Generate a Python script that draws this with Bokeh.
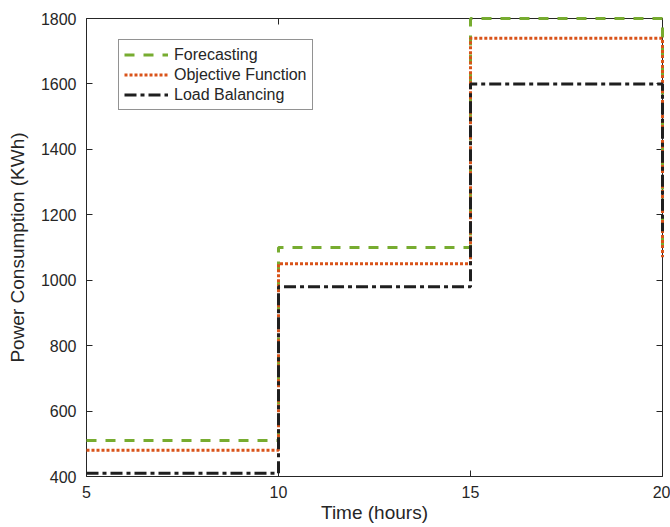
from bokeh.plotting import figure
from bokeh.models import LinearAxis, Range1d, FixedTicker, Legend, LegendItem, CustomJSTickFormatter
from bokeh.embed import file_html
from bokeh.resources import INLINE

time_hours = [5, 10, 15, 20]
forecasting = [510, 1100, 1800, 1100]
objective_function = [480, 1050, 1740, 1070]
load_balancing = [410, 980, 1600, 1150]

x_ticks = [5, 10, 15, 20]
y_ticks = [400, 600, 800, 1000, 1200, 1400, 1600, 1800]

FONT = "Liberation Sans"
AX = "#262626"

p = figure(frame_width=576, frame_height=458, output_backend="svg", toolbar_location=None,
           x_range=Range1d(5, 20), y_range=Range1d(400, 1800),
           min_border_left=86, min_border_right=8, min_border_top=18, min_border_bottom=51)
p.xgrid.visible = False
p.ygrid.visible = False
p.outline_line_color = None

r1 = p.step(time_hours, forecasting, mode="after", line_color="#77AC30", line_width=3, line_dash="10 9")
r2 = p.step(time_hours, objective_function, mode="after", line_color="#D95319", line_width=3, line_dash="3 2")
r3 = p.step(time_hours, load_balancing, mode="after", line_color="#1f1f1f", line_width=3, line_dash="12 4 4 4")
for r in (r1, r2, r3):
    r.level = "overlay"

def style(ax, show_labels=True):
    ax.axis_line_color = AX
    ax.axis_line_width = 1
    ax.major_tick_line_color = AX
    ax.major_tick_in = 6
    ax.major_tick_out = 0
    ax.minor_tick_line_color = None
    ax.major_label_text_font = FONT
    ax.major_label_text_color = AX
    ax.axis_label_text_font = FONT
    ax.axis_label_text_color = AX
    ax.axis_label_text_font_style = "normal"
    if show_labels:
        ax.major_label_text_font_size = "16px"
        ax.axis_label_text_font_size = "19px"
    else:
        ax.major_label_text_font_size = "0px"
        ax.formatter = CustomJSTickFormatter(code="return '';")

xa = p.xaxis[0]
xa.ticker = FixedTicker(ticks=x_ticks)
xa.axis_label = "Time (hours)"
style(xa)
xa.major_label_standoff = 9
xa.axis_label_standoff = 1

ya = p.yaxis[0]
ya.ticker = FixedTicker(ticks=y_ticks)
ya.axis_label = "Power Consumption (KWh)"
style(ya)
ya.major_label_standoff = 10
ya.axis_label_standoff = 10

top = LinearAxis(ticker=FixedTicker(ticks=x_ticks))
style(top, False)
p.add_layout(top, "above")
right = LinearAxis(ticker=FixedTicker(ticks=y_ticks))
style(right, False)
p.add_layout(right, "right")

legend = Legend(items=[LegendItem(label="Forecasting", renderers=[r1]),
                       LegendItem(label="Objective Function", renderers=[r2]),
                       LegendItem(label="Load Balancing", renderers=[r3])],
                location=(32, 366))
legend.label_text_font = FONT
legend.label_text_font_size = "16px"
legend.label_text_color = AX
legend.glyph_width = 44
legend.glyph_height = 19
legend.label_height = 19
legend.label_standoff = 6
legend.spacing = 1
legend.padding = 5
legend.margin = 0
legend.border_line_color = AX
legend.border_line_width = 1
legend.background_fill_color = "white"
p.add_layout(legend, "center")

open("out.html", "w").write(file_html(p, INLINE))
